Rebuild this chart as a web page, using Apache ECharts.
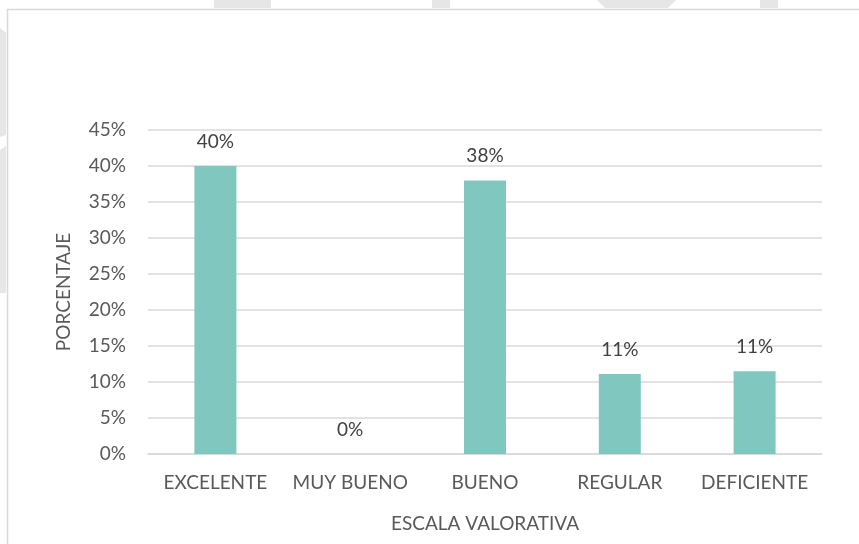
<!DOCTYPE html>
<html><head><meta charset="utf-8">
<script src="https://cdn.jsdelivr.net/npm/echarts@6/dist/echarts.min.js"></script>
<style>html,body{margin:0;padding:0;background:#fff}#c{width:859px;height:544px}</style>
</head><body><div id="c"></div>
<script>
const categories = ["EXCELENTE", "MUY BUENO", "BUENO", "REGULAR", "DEFICIENTE"];
const values = [40, 0, 38, 11.1, 11.5];
const valueLabels = ["40%", "0%", "38%", "11%", "11%"];
const yTicks = [0, 5, 10, 15, 20, 25, 30, 35, 40, 45];

const FONT = "Lato";
const TXT = "#595959";
const FS = 19;
const chart = echarts.init(document.getElementById('c'), null, {renderer: 'canvas'});
chart.setOption({
  backgroundColor: '#ffffff',
  animation: false,
  textStyle: {fontFamily: FONT},
  graphic: [
    {type: 'rect', shape: {x: 214, y: 0, width: 57, height: 8}, style: {fill: '#e6e6e6'}, silent: true},
    {type: 'rect', shape: {x: 432, y: 0, width: 18, height: 8}, style: {fill: '#e6e6e6'}, silent: true},
    {type: 'polygon', shape: {points: [[597, 0], [676, 0], [668, 8], [605, 8]]}, style: {fill: '#e6e6e6'}, silent: true},
    {type: 'rect', shape: {x: 760, y: 0, width: 18, height: 8}, style: {fill: '#e6e6e6'}, silent: true},
    {type: 'polygon', shape: {points: [[0, 28], [6, 33], [6, 135], [0, 137]]}, style: {fill: '#e6e6e6'}, silent: true},
    {type: 'polygon', shape: {points: [[0, 150], [6, 146], [6, 293], [0, 293]]}, style: {fill: '#e6e6e6'}, silent: true},
    {type: 'line', shape: {x1: 7, y1: 9.5, x2: 859, y2: 9.5}, style: {stroke: '#d9d9d9', lineWidth: 1.5}, silent: true},
    {type: 'line', shape: {x1: 7.5, y1: 9, x2: 7.5, y2: 544}, style: {stroke: '#d9d9d9', lineWidth: 1.5}, silent: true}
  ],
  grid: {left: 148, right: 37, top: 130, bottom: 90, containLabel: false},
  xAxis: {
    type: 'category',
    data: categories,
    name: 'ESCALA VALORATIVA',
    nameLocation: 'middle',
    nameGap: 60,
    nameTextStyle: {color: TXT, fontSize: FS, fontFamily: FONT},
    axisLine: {show: true, lineStyle: {color: '#d9d9d9', width: 1.5}},
    axisTick: {show: false},
    axisLabel: {color: TXT, fontSize: FS, margin: 19, fontFamily: FONT, interval: 0}
  },
  yAxis: {
    type: 'value',
    min: 0, max: 45, interval: 5,
    name: 'PORCENTAJE',
    nameLocation: 'middle',
    nameGap: 75,
    nameTextStyle: {color: TXT, fontSize: FS, fontFamily: FONT},
    axisLine: {show: false},
    axisTick: {show: false},
    splitLine: {show: true, lineStyle: {color: '#d9d9d9', width: 1.5}},
    axisLabel: {color: TXT, fontSize: FS, margin: 22, fontFamily: FONT,
      formatter: v => yTicks.includes(v) ? v + '%' : ''}
  },
  series: [{
    type: 'bar',
    data: values,
    barWidth: 42,
    itemStyle: {color: '#80c8bf'},
    label: {
      show: true, position: 'top', distance: 15,
      color: '#404040', fontSize: FS, fontFamily: FONT,
      formatter: p => valueLabels[p.dataIndex]
    }
  }]
});
</script></body></html>
